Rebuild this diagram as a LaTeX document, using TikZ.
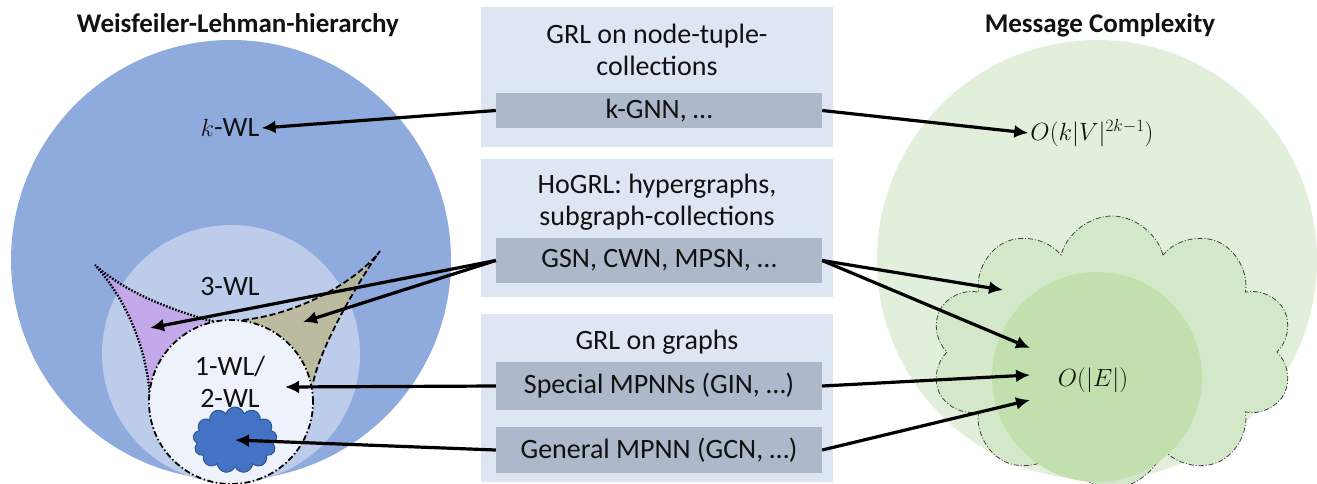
\documentclass[tikz,border=0pt]{standalone}
\usepackage{fontspec}
\setmainfont{Carlito}
\usetikzlibrary{shapes.symbols,arrows.meta}
\definecolor{wlA}{HTML}{8FAADC}
\definecolor{wlB}{HTML}{BCCCEA}
\definecolor{wlC}{HTML}{EEF2FA}
\definecolor{purp}{HTML}{C5A1EB}
\definecolor{oliv}{HTML}{BDB78D}
\definecolor{cloudblue}{HTML}{4472C4}
\definecolor{cloudblueedge}{HTML}{2F5597}
\definecolor{gA}{HTML}{E2EFDA}
\definecolor{gB}{HTML}{D3E8C8}
\definecolor{gC}{HTML}{C2E0AE}
\definecolor{boxout}{HTML}{DEE6F3}
\definecolor{boxin}{HTML}{ADB9CA}
\definecolor{txt}{HTML}{111111}
\begin{document}
\begin{tikzpicture}[x=1pt,y=-1pt,
  font=\fontsize{28}{32}\selectfont, text=txt,
  outerbox/.style={fill=boxout, draw=none, minimum width=352pt, inner sep=0pt},
  innerbox/.style={fill=boxin, draw=none, minimum width=326pt, inner sep=0pt},
  arr/.style={line width=3.2pt, -{Latex[length=14pt,width=13pt]}},
  lbl/.style={inner sep=2pt, align=center},
  mathlbl/.style={inner sep=2pt, font=\fontsize{27}{30}\selectfont},
  titlefont/.style={font=\fontsize{27}{30}\selectfont\bfseries}
]
\useasboundingbox (0,0) rectangle (1317,483);
\clip (0,0) rectangle (1317,483);

% ---------- left: WL hierarchy ----------
\fill[wlA] (231,260) circle[radius=220pt];
\fill[wlB] (231,354) circle[radius=129pt];

\coordinate (pA) at (95,265);
\coordinate (pB) at (150,396);
\coordinate (pC) at (215,322);
\coordinate (oD) at (377,255);
\coordinate (oE) at (243,320);
\coordinate (oF) at (313,383);
\coordinate (wlc) at (231,402);

\fill[purp, opacity=0.8] (pA) .. controls (118,290) and (145,335) .. (pB) -- (wlc) -- (pC)
  .. controls (170,310) and (125,292) .. (pA) -- cycle;
\fill[oliv, opacity=0.8] (oD) .. controls (345,290) and (290,315) .. (oE) -- (wlc) -- (oF)
  .. controls (320,350) and (350,295) .. (oD) -- cycle;
\draw[line width=2.4pt, dash pattern=on 1.6pt off 1.6pt] (pB) .. controls (145,335) and (118,290) .. (pA)
  .. controls (125,292) and (170,310) .. (pC);
\draw[line width=1.8pt, dash pattern=on 6pt off 3pt] (380,251) -- (oD);
\draw[line width=1.8pt, dash pattern=on 6pt off 3pt] (oE) .. controls (290,315) and (345,290) .. (oD)
  .. controls (350,295) and (320,350) .. (oF);

\node[circle, fill=wlC, minimum size=164pt, inner sep=0pt] (wlone) at (wlc) {};
\draw[line width=1.8pt, dash pattern=on 6pt off 2.5pt on 1.5pt off 2.5pt] (wlc) circle[radius=82pt];

\node[cloud, cloud puffs=13, cloud ignores aspect, fill=cloudblue, draw=cloudblueedge, line width=1pt,
  minimum width=84pt, minimum height=66pt, inner sep=0pt] (bluecloud) at (235,440) {};

\node[lbl] (kwl) at (230,128) {$k$-WL};
\node[lbl] (threewl) at (230,287) {3-WL};
\node[lbl] (onewl) at (230,382) {1-WL/\\2-WL};

\node[titlefont] (lefttitle) at (238,25) {Weisfeiler-Lehman-hierarchy};
\node[titlefont] (righttitle) at (1100,25) {Message Complexity};

% ---------- right: message complexity ----------
\fill[gA] (1097,260) circle[radius=220pt];
\node[cloud, cloud puffs=10, cloud ignores aspect, fill=gB, draw=black!75, line width=0.8pt,
  dash pattern=on 5pt off 2pt on 1pt off 2pt,
  minimum width=362pt, minimum height=272pt, inner sep=0pt] (bigcloud) at (1112,352) {};
\fill[gC] (1097,377) circle[radius=105pt];

\node[mathlbl] (okv) at (1092,133) {$O(k|V|^{2k-1})$};
\node[mathlbl] (oe) at (1093,380) {$O(|E|)$};

% ---------- middle boxes ----------
\node[outerbox, minimum height=140pt] (b1) at (657,77) {};
\node[outerbox, minimum height=138pt] (b2) at (657,228) {};
\node[outerbox, minimum height=168pt] (b3) at (657,398) {};

\node[lbl] (t1) at (657,50) {GRL on node-tuple-\\collections};
\node[lbl] (t2) at (657,202) {HoGRL: hypergraphs,\\subgraph-collections};
\node[lbl] (t3) at (657,342) {GRL on graphs};

\node[innerbox, minimum height=35pt] (i1) at (659,110.5) {k-GNN, …};
\node[innerbox, minimum height=45pt] (i2) at (659,260.5) {GSN, CWN, MPSN, …};
\node[innerbox, minimum height=48pt] (i3) at (659,386) {Special MPNNs (GIN, …)};
\node[innerbox, minimum height=46pt] (i4) at (659,450) {General MPNN (GCN, …)};

% ---------- arrow targets ----------
\coordinate (purpTip) at (150,328);
\coordinate (olivTip) at (303,322);
\coordinate (cloudTip) at (1003,290);
\coordinate (oeTipA) at (1030,348);
\coordinate (oeTipB) at (1030,375);
\coordinate (oeTipC) at (1030,400);
\coordinate (wlTip) at (285,387);

% ---------- arrows ----------
\draw[arr] (i1.west) -- (kwl.east);
\draw[arr] (i1.east) -- (okv.west);
\draw[arr] (i2.west) -- (purpTip);
\draw[arr] (i2.west) -- (olivTip);
\draw[arr] (i2.east) -- (cloudTip);
\draw[arr] (i2.east) -- (oeTipA);
\draw[arr] (i3.west) -- (wlTip);
\draw[arr] (i3.east) -- (oeTipB);
\draw[arr] (i4.west) -- (bluecloud.center);
\draw[arr] (i4.east) -- (oeTipC);
\end{tikzpicture}
\end{document}
